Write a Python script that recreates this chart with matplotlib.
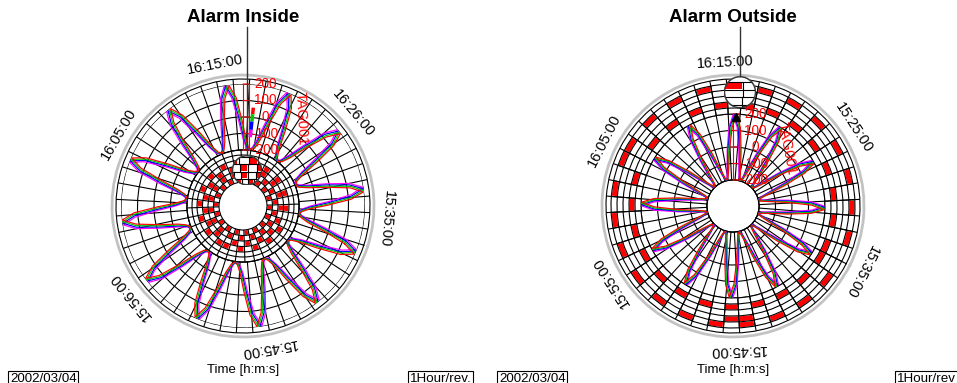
import numpy as np
import matplotlib
matplotlib.use("Agg")
import matplotlib.pyplot as plt
import matplotlib.transforms as mtransforms
from matplotlib.patches import Circle, Rectangle

plt.rcParams['font.family'] = ['Liberation Sans', 'DejaVu Sans']

W, H, DPI = 957, 383, 100

# ---------------------------------------------------------------- data
titles = ["Alarm Inside", "Alarm Outside"]
date_text = "2002/03/04"
rev_texts = ["1Hour/rev.", "1Hour/rev"]
xlabel_text = "Time [h:m:s]"
tag_label = "TAG001"

value_ticks = [-200, -100, 0, 100, 200]
value_ticklabels = ["-200", "-100", "0", "100", "200"]

time_labels_inside = ["15:35:00", "15:45:00", "15:56:00", "16:05:00", "16:15:00", "16:26:00"]
time_labels_outside = ["15:25:00", "15:35:00", "15:45:00", "15:55:00", "16:05:00", "16:15:00"]

start_time = "15:35:00"
sample_step_s = 30

# four tags, sampled every 30 s for one hour (one revolution)
tag001 = [118, 195, 122, -18, -128, -182, -196, -181, -131, -22,
          121, 194, 119, -21, -132, -179, -195, -183, -129, -19,
          117, 196, 121, -19, -130, -181, -197, -180, -128, -20,
          120, 193, 118, -23, -131, -183, -194, -182, -130, -18,
          122, 195, 120, -17, -127, -180, -196, -179, -132, -21,
          119, 197, 123, -20, -129, -182, -195, -181, -129, -23,
          121, 194, 118, -22, -133, -178, -197, -184, -127, -17,
          118, 196, 121, -18, -130, -181, -196, -180, -131, -20,
          120, 195, 119, -21, -128, -183, -194, -182, -129, -22,
          123, 193, 122, -19, -131, -179, -196, -181, -130, -19,
          117, 196, 120, -20, -129, -182, -195, -183, -128, -21,
          120, 194, 118, -23, -132, -180, -197, -179, -131, -18]
tag002 = [119, 194, 121, -20, -129, -181, -195, -182, -130, -21,
          120, 196, 120, -19, -131, -180, -196, -181, -128, -20,
          118, 195, 122, -21, -129, -182, -196, -181, -129, -19,
          121, 194, 119, -22, -130, -182, -195, -183, -131, -19,
          121, 196, 121, -18, -128, -181, -197, -180, -131, -20,
          120, 196, 122, -19, -130, -181, -196, -182, -130, -22,
          120, 195, 119, -21, -132, -179, -196, -183, -128, -18,
          119, 195, 120, -19, -129, -182, -195, -181, -130, -21,
          121, 194, 120, -20, -129, -182, -195, -181, -130, -21,
          122, 194, 121, -20, -130, -180, -197, -182, -129, -20,
          118, 195, 121, -21, -130, -181, -196, -182, -129, -20,
          121, 195, 119, -22, -131, -181, -196, -180, -130, -19]
tag003 = [120, 196, 121, -19, -130, -180, -197, -182, -129, -20,
          118, 195, 122, -20, -131, -181, -195, -182, -130, -22,
          119, 194, 120, -18, -128, -180, -196, -182, -130, -21,
          122, 195, 120, -21, -129, -181, -196, -181, -129, -20,
          120, 194, 119, -19, -130, -182, -195, -181, -130, -19,
          121, 195, 121, -21, -131, -180, -197, -180, -128, -21,
          119, 196, 120, -20, -130, -181, -195, -182, -129, -20,
          120, 194, 122, -20, -131, -180, -197, -181, -129, -19,
          122, 196, 118, -19, -130, -181, -196, -183, -131, -20,
          119, 195, 120, -21, -129, -182, -195, -180, -131, -21,
          120, 194, 122, -19, -131, -180, -197, -181, -130, -19,
          118, 196, 120, -20, -130, -182, -195, -182, -129, -22]
tag004 = [121, 195, 119, -21, -131, -182, -195, -180, -130, -19,
          120, 194, 121, -20, -129, -181, -197, -182, -131, -20,
          121, 196, 119, -20, -131, -180, -195, -183, -129, -22,
          119, 195, 121, -19, -128, -182, -196, -180, -131, -21,
          118, 196, 122, -20, -131, -181, -195, -182, -129, -21,
          122, 194, 120, -22, -129, -181, -196, -181, -131, -20,
          120, 195, 121, -19, -130, -182, -196, -181, -130, -19,
          121, 196, 119, -21, -129, -180, -196, -182, -130, -20,
          118, 194, 121, -20, -131, -182, -197, -180, -128, -19,
          120, 196, 119, -19, -130, -181, -195, -183, -130, -22,
          121, 195, 120, -22, -128, -181, -196, -180, -131, -20,
          119, 194, 121, -19, -130, -181, -197, -181, -130, -21]

series_values = [tag004, tag003, tag002, tag001]           # drawing order
series_colors = ["#ff00ff", "#0000ff", "#00c800", "#ff0000"]
series_start_offset_s = [0, 8, 16, 24]

# alarm bands: one character per cell ('1' = alarm), inner band first
alarm_inside = [
    "101010101" + "010101010" + "101010101" + "010101010",
    "010101010" + "101010101" + "010101010" + "101010101",
    "101010101" + "001010101" + "010101010" + "110101010",
    "010101010" + "110101010" + "101010101" + "010101010",
]
alarm_outside = [
    "000000000000" + "000000000000" + "000000000000" + "000000000000",
    "101010101010" + "101010101010" + "010101010101" + "010101010101",
    "000000000000" + "000000000000" + "000000000000" + "000000000000",
    "000000011000" + "000000000000" + "000000000000" + "000000000000",
    "010101010101" + "010101010101" + "101010101010" + "101010101010",
]

# current-value cursor markers (value ranges per tag)
cursor_inside = [(60, 20), (20, -25), (-25, -75), (-75, -120)]
cursor_inside_colors = ["#ff0000", "#00c800", "#0000ff", "#ff00ff"]
cursor_outside_value = 185


# ---------------------------------------------------------------- helpers
def hms_to_min(s):
    h, m, sec = (int(x) for x in s.split(":"))
    return h * 60 + m + sec / 60.0


T0 = hms_to_min(start_time)
R_GRAY = 131
R_BLACK = 127
LABEL_R = 144


def fig_rect(cx, cy, r):
    return [(cx - r) / W, (H - cy - r) / H, 2 * r / W, 2 * r / H]


def setup_polar(ax, off):
    ax.set_theta_zero_location('N', offset=-off)
    ax.set_theta_direction(-1)
    ax.set_xticks([])
    ax.tick_params(length=0, labelleft=False, labelbottom=False)


charts = [
    dict(title=titles[0], cx=243, cy=206, offset=108, labels=time_labels_inside,
         label_angles=[95, 170, 231, 300, 349, 50],
         rev=rev_texts[0], date_x=10, rev_x=410,
         r_in=56, r_out=122, ring_lines=[24, 29.5, 35, 40.5, 46, 51, 56, R_BLACK],
         band_edges=[24, 29.5, 35, 40.5, 46], alarms=alarm_inside, ncell=36,
         cell_span=(24, 56), spoke_span=(56, R_BLACK), fill=0.72,
         mag_lines=[24, 29.5, 35, 40.5, 46, 51, 56],
         ptr_dx=4, mag_dist=36, mag_rad=15, tag_dx=42, tag_rot=-87),
    dict(title=titles[1], cx=733, cy=206, offset=117, labels=time_labels_outside,
         label_angles=[57, 117, 178, 238, 297, 357],
         rev=rev_texts[1], date_x=499, rev_x=897,
         r_in=26, r_out=92, ring_lines=[26, 92, 98, 104, 110, 116, 122, R_BLACK],
         band_edges=[92, 98, 104, 110, 116, 122], alarms=alarm_outside, ncell=48,
         cell_span=(92, 122), spoke_span=(26, R_BLACK), fill=0.9,
         mag_lines=[92, 98, 104, 110, 116, 122, R_BLACK],
         ptr_dx=7, mag_dist=114, mag_rad=16, tag_dx=39, tag_rot=-79),
]

fig = plt.figure(figsize=(W / DPI, H / DPI), dpi=DPI)
fig.patch.set_facecolor('white')

mag_info = []

for ci, c in enumerate(charts):
    cx, cy, off = c['cx'], c['cy'], c['offset']

    # ---------- background polar axes (pixel radius units)
    ax = fig.add_axes(fig_rect(cx, cy, R_GRAY), projection='polar')
    setup_polar(ax, off)
    ax.set_facecolor('white')
    cell = 360.0 / c['ncell']
    for b, pat in enumerate(c['alarms']):
        r0, r1 = c['band_edges'][b], c['band_edges'][b + 1]
        on = [k for k, ch in enumerate(pat) if ch == '1']
        if on:
            th = np.radians((np.array(on) + 0.5) * cell)
            ax.bar(th, (r1 - r0) - 1.0, width=np.radians(cell) * c['fill'],
                   bottom=r0 + 0.5, color='red', lw=0, zorder=2)
    spokes = np.radians(np.arange(0, 360, 7.5))
    ax.vlines(spokes, c['spoke_span'][0], c['spoke_span'][1],
              colors='black', lw=0.8, zorder=3)
    seps = np.radians(np.arange(c['ncell']) * cell)
    ax.vlines(seps, c['cell_span'][0], c['cell_span'][1],
              colors='black', lw=0.8, zorder=3)
    ax.set_yticks(c['ring_lines'])
    ax.set_yticklabels([])
    ax.yaxis.grid(True, color='black', lw=0.8)
    ax.set_axisbelow(False)
    ax.set_ylim(0, R_GRAY)
    ax.spines['polar'].set_edgecolor('#c3c3c3')
    ax.spines['polar'].set_linewidth(2)
    for lbl, disp in zip(c['labels'], c['label_angles']):
        ax.text(np.radians(disp - off), LABEL_R, lbl, rotation=-disp,
                rotation_mode='anchor', ha='center', va='center', fontsize=10.5)

    # ---------- value polar axes (petals)
    ax2 = fig.add_axes(fig_rect(cx, cy, c['r_out']), projection='polar')
    setup_polar(ax2, off)
    ax2.set_facecolor('none')
    for sp in ax2.spines.values():
        sp.set_visible(False)
    vmin, vmax = value_ticks[0], value_ticks[-1]
    kk = c['r_in'] / c['r_out']
    ax2.set_ylim(vmin, vmax)
    ax2.set_rorigin((vmin - kk * vmax) / (1 - kk))
    ax2.set_yticks(value_ticks)
    ax2.set_yticklabels([])
    ax2.yaxis.grid(True, color='black', lw=0.8)

    for vals, col, offs in zip(series_values, series_colors, series_start_offset_s):
        mins = (offs + np.arange(len(vals) + 1) * sample_step_s) / 60.0
        th = np.radians(360.0 * mins / 60.0)
        v = np.append(vals, vals[0])
        ax2.plot(th, v, color=col, lw=0.85, zorder=4)

    # red value axis
    tha = np.radians(-off)
    ax2.plot([tha, tha], [vmin, vmax], color='red', lw=0.8, clip_on=False, zorder=5)
    tr2 = mtransforms.offset_copy(ax2.transData, fig=fig, x=6, y=0, units='dots')
    ax2.plot([tha, tha], [vmin, vmax], color='red', lw=0.8, transform=tr2,
             clip_on=False, zorder=5)
    for v, lab in zip(value_ticks, value_ticklabels):
        ax2.annotate('', xy=(tha, v), xytext=(6 * 72 / DPI, 0), textcoords='offset points',
                     arrowprops=dict(arrowstyle='-', color='red', lw=0.8,
                                     shrinkA=0, shrinkB=0),
                     annotation_clip=False)
        ax2.annotate(lab, xy=(tha, v), xytext=(16, 0), textcoords='offset points',
                     ha='center', va='center', color='red', fontsize=9.8,
                     annotation_clip=False, zorder=6)
    ax2.annotate(tag_label, xy=(tha, 0), xytext=(c['tag_dx'], -1),
                 textcoords='offset points', rotation=c['tag_rot'],
                 ha='center', va='center', color='red', fontsize=10.5,
                 annotation_clip=False)

    # cursor markers
    if ci == 0:
        tm = np.radians(6 - off)
        for (v0, v1), col in zip(cursor_inside, cursor_inside_colors):
            ax2.plot([tm, tm], [v0, v1], color=col, lw=2.5,
                     solid_capstyle='butt', clip_on=False, zorder=6)
    else:
        ax2.plot(np.radians(2 - off), cursor_outside_value, marker='^',
                 color='black', ms=6, clip_on=False, zorder=6)

    # ---------- magnifier (straightened zoom of the alarm bands at the cursor)
    dxp = c['ptr_dx']
    dyp = np.sqrt(c['mag_dist'] ** 2 - dxp ** 2)
    mx, my = cx + dxp, cy - dyp
    th_c = np.degrees(np.arctan2(dxp, dyp))
    R = c['mag_rad']
    mag = 1.3
    axm = fig.add_axes(fig_rect(mx, my, R))
    axm.set_xlim(-R, R)
    axm.set_ylim(-R, R)
    axm.axis('off')
    clip = Circle((0, 0), R, transform=axm.transData, fc='white', ec='none', zorder=0)
    axm.add_patch(clip)
    for b, pat in enumerate(c['alarms']):
        r0, r1 = c['band_edges'][b], c['band_edges'][b + 1]
        rm = 0.5 * (r0 + r1)
        y0, y1 = (r0 - c['mag_dist']) * mag, (r1 - c['mag_dist']) * mag
        for k, ch in enumerate(pat):
            a0 = off + k * cell
            d0 = (a0 - th_c + 180) % 360 - 180
            x0 = np.radians(d0) * rm * mag
            x1 = np.radians(d0 + cell) * rm * mag
            if x1 < -R or x0 > R:
                continue
            if ch == '1':
                w = (x1 - x0) * c['fill']
                xm = 0.5 * (x0 + x1)
                rect = Rectangle((xm - w / 2, y0 + 0.6), w, (y1 - y0) - 1.2,
                                 fc='red', ec='none', zorder=1)
                axm.add_patch(rect)
                rect.set_clip_path(clip)
            ln, = axm.plot([x0, x0], [y0, y1], color='black', lw=0.8, zorder=2)
            ln.set_clip_path(clip)
    for r in c['mag_lines']:
        y = (r - c['mag_dist']) * mag
        ln, = axm.plot([-R, R], [y, y], color='black', lw=0.8, zorder=2)
        ln.set_clip_path(clip)
    axm.add_patch(Circle((0, 0), R - 0.5, transform=axm.transData, fill=False,
                         ec='#3a3a3a', lw=1.1, zorder=3))
    mag_info.append((mx, my, R))

# ---------------------------------------------------------------- overlay texts
ov = fig.add_axes([0, 0, 1, 1])
ov.set_xlim(0, W)
ov.set_ylim(H, 0)
ov.axis('off')
ov.patch.set_alpha(0)
for c, (mx, my, R) in zip(charts, mag_info):
    ov.plot([mx, mx], [27, my - R], color='#333333', lw=1.0)
    ov.text(c['cx'], 18, c['title'], ha='center', va='center',
            fontsize=13.5, fontweight='bold')
    ov.text(c['cx'], 370, xlabel_text, ha='center', va='center', fontsize=9.5)
    box = dict(boxstyle='square,pad=0.12', fc='white', ec='black', lw=0.8)
    ov.text(c['date_x'], 372.5, date_text, ha='left', va='top', fontsize=9.6, bbox=box)
    ov.text(c['rev_x'], 372.5, c['rev'], ha='left', va='top', fontsize=9.6, bbox=box)

fig.savefig("out.png", dpi=DPI)
